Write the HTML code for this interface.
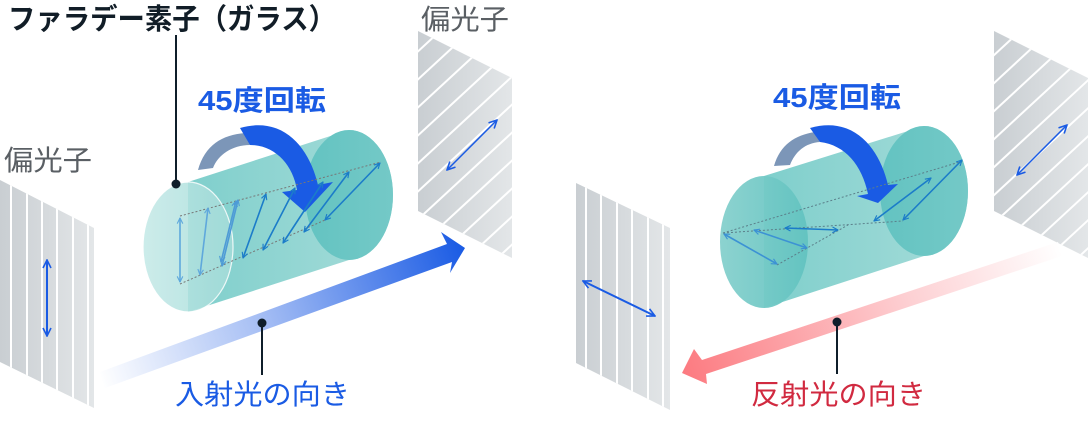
<!DOCTYPE html>
<html><head><meta charset="utf-8"><style>
html,body{margin:0;padding:0;background:#fff;width:1088px;height:427px;overflow:hidden}
svg{display:block}
text{font-family:"Liberation Sans","Noto Sans CJK JP",sans-serif}
</style></head><body>
<svg width="1088" height="427" viewBox="0 0 1088 427" xmlns="http://www.w3.org/2000/svg">
<defs>
<linearGradient id="pg" x1="0" x2="1" y1="0" y2="0"><stop offset="0" stop-color="#c9ced2"/><stop offset="1" stop-color="#e3e6e8"/></linearGradient>
<linearGradient id="cyl" x1="0" x2="1"><stop offset="0" stop-color="#7fcfcc"/><stop offset="1" stop-color="#a6dcd9"/></linearGradient>
<linearGradient id="endL" x1="0" x2="1"><stop offset="0" stop-color="#c4e9e7"/><stop offset="1" stop-color="#a4dcd9"/></linearGradient>
<linearGradient id="endR" x1="0" x2="1"><stop offset="0" stop-color="#63c3c1"/><stop offset="1" stop-color="#74c9c7"/></linearGradient>
<linearGradient id="endL2" x1="0" x2="1"><stop offset="0" stop-color="#86d0cd"/><stop offset="1" stop-color="#62c3c0"/></linearGradient>
<linearGradient id="inc" gradientUnits="userSpaceOnUse" x1="100" y1="380" x2="465" y2="250"><stop offset="0" stop-color="#ffffff"/><stop offset="0.45" stop-color="#a4bdf4"/><stop offset="1" stop-color="#1a5be4"/></linearGradient>
<linearGradient id="ref" gradientUnits="userSpaceOnUse" x1="1060" y1="248" x2="682" y2="373"><stop offset="0" stop-color="#ffffff"/><stop offset="0.4" stop-color="#fdd0d3"/><stop offset="1" stop-color="#fc7a80"/></linearGradient>
<marker id="ah" viewBox="0 0 10 10" refX="9" refY="5" markerWidth="7" markerHeight="7" orient="auto-start-reverse" markerUnits="userSpaceOnUse"><path d="M1,1 L9,5 L1,9" fill="none" stroke="context-stroke" stroke-width="1.6"/></marker>
<marker id="ahb" viewBox="0 0 10 10" refX="9" refY="5" markerWidth="10" markerHeight="10" orient="auto-start-reverse" markerUnits="userSpaceOnUse"><path d="M1,1 L9,5 L1,9" fill="none" stroke="#1a5be4" stroke-width="1.6"/></marker>
<clipPath id="cp1"><polygon points="0,180 94,228 94,408 0,362"/></clipPath>
<clipPath id="cp2"><polygon points="418,31 512,78 512,258 418,211"/></clipPath>
<clipPath id="cp3"><polygon points="576,183 670,228 670,410 576,363"/></clipPath>
<clipPath id="cp4"><polygon points="994,31 1088,78 1088,258 994,211"/></clipPath>
</defs>

<!-- polarizers -->
<g clip-path="url(#cp1)"><rect x="0" y="170" width="94" height="240" fill="url(#pg)"/>
<g stroke="#fff" stroke-width="2"><line x1="11" y1="170" x2="11" y2="420"/><line x1="27" y1="170" x2="27" y2="420"/><line x1="42" y1="170" x2="42" y2="420"/><line x1="57" y1="170" x2="57" y2="420"/><line x1="73" y1="170" x2="73" y2="420"/><line x1="88" y1="170" x2="88" y2="420"/></g></g>
<line x1="47" y1="260" x2="47" y2="336" stroke="#1a5be4" stroke-width="2" marker-start="url(#ahb)" marker-end="url(#ahb)"/>

<g clip-path="url(#cp2)"><rect x="418" y="25" width="94" height="240" fill="url(#pg)"/>
<g stroke="#fff" stroke-width="2"><line x1="400" y1="68" x2="530" y2="-52"/><line x1="400" y1="96" x2="530" y2="-24"/><line x1="400" y1="124" x2="530" y2="4"/><line x1="400" y1="152" x2="530" y2="32"/><line x1="400" y1="180" x2="530" y2="60"/><line x1="400" y1="208" x2="530" y2="88"/><line x1="400" y1="236" x2="530" y2="116"/><line x1="400" y1="264" x2="530" y2="144"/><line x1="400" y1="292" x2="530" y2="172"/><line x1="400" y1="320" x2="530" y2="200"/><line x1="400" y1="348" x2="530" y2="228"/><line x1="400" y1="376" x2="530" y2="256"/></g></g>
<line x1="447" y1="170" x2="497" y2="120" stroke="#1a5be4" stroke-width="1.5" marker-start="url(#ahb)" marker-end="url(#ahb)"/>

<g clip-path="url(#cp3)"><rect x="576" y="180" width="94" height="235" fill="url(#pg)"/>
<g stroke="#fff" stroke-width="2"><line x1="586" y1="170" x2="586" y2="420"/><line x1="601" y1="170" x2="601" y2="420"/><line x1="617" y1="170" x2="617" y2="420"/><line x1="632" y1="170" x2="632" y2="420"/><line x1="648" y1="170" x2="648" y2="420"/><line x1="663" y1="170" x2="663" y2="420"/></g></g>
<line x1="583" y1="281" x2="655" y2="316" stroke="#1a5be4" stroke-width="2" marker-start="url(#ahb)" marker-end="url(#ahb)"/>

<g clip-path="url(#cp4)"><rect x="994" y="25" width="94" height="240" fill="url(#pg)"/>
<g stroke="#fff" stroke-width="2"><line x1="980" y1="68" x2="1110" y2="-52"/><line x1="980" y1="96" x2="1110" y2="-24"/><line x1="980" y1="124" x2="1110" y2="4"/><line x1="980" y1="152" x2="1110" y2="32"/><line x1="980" y1="180" x2="1110" y2="60"/><line x1="980" y1="208" x2="1110" y2="88"/><line x1="980" y1="236" x2="1110" y2="116"/><line x1="980" y1="264" x2="1110" y2="144"/><line x1="980" y1="292" x2="1110" y2="172"/><line x1="980" y1="320" x2="1110" y2="200"/><line x1="980" y1="348" x2="1110" y2="228"/><line x1="980" y1="376" x2="1110" y2="256"/></g></g>
<line x1="1017" y1="175" x2="1067" y2="125" stroke="#1a5be4" stroke-width="1.5" marker-start="url(#ahb)" marker-end="url(#ahb)"/>

<!-- incident beam -->
<polygon points="100,372 447,244 441,232 465,248 450,273 452,262 105,388" fill="url(#inc)"/>
<!-- reflected beam -->
<polygon points="1058,242 702,360 694,349 682,373 707,384 706,374 1062,256" fill="url(#ref)"/>

<!-- left cylinder -->
<path d="M188,182 L349,130 A44,65 0 0 1 349,260 L188,312 Z" fill="url(#cyl)"/>
<ellipse cx="349" cy="195" rx="44" ry="65" fill="url(#endR)"/>
<ellipse cx="188" cy="247" rx="45" ry="65" fill="url(#endL)" opacity="0.85" stroke="#fff" stroke-width="1.2"/>
<!-- rotation arrow left -->
<path d="M198,170 C205,145 222,135 245,133 L250,145 C232,145 218,155 213,168 Z" fill="#7c96b8"/>
<path d="M240,128 C285,115 310,150 318,185 L333,182 L305,212 L282,192 L297,190 C293,165 275,145 250,145 Z" fill="#1a5be4"/>
<!-- left dotted lines & arrows -->
<g stroke="#777" stroke-width="1" stroke-dasharray="2,2" fill="none"><line x1="180" y1="216" x2="381" y2="162"/><line x1="180" y1="284" x2="325" y2="220"/></g>
<g fill="none" stroke-width="1.6">
<line x1="180" y1="218" x2="180" y2="282" stroke="#5fa8dc" marker-start="url(#ah)" marker-end="url(#ah)"/>
<line x1="208" y1="208" x2="200" y2="275" stroke="#5fa8dc" marker-start="url(#ah)" marker-end="url(#ah)"/>
<line x1="238" y1="200" x2="222" y2="266" stroke="#4e9bd6" marker-start="url(#ah)" marker-end="url(#ah)"/>
<line x1="236" y1="201" x2="221" y2="262" stroke="#4e9bd6" marker-start="url(#ah)" marker-end="url(#ah)"/>
<line x1="266" y1="194" x2="243" y2="258" stroke="#1b7cc9" marker-start="url(#ah)" marker-end="url(#ah)"/>
<line x1="295" y1="188" x2="263" y2="250" stroke="#1b7cc9" marker-start="url(#ah)" marker-end="url(#ah)"/>
<line x1="323" y1="182" x2="283" y2="243" stroke="#1b7cc9" marker-start="url(#ah)" marker-end="url(#ah)"/>
<line x1="349" y1="172" x2="304" y2="232" stroke="#1b7cc9" marker-start="url(#ah)" marker-end="url(#ah)"/>
<line x1="380" y1="163" x2="325" y2="220" stroke="#1b7cc9" marker-start="url(#ah)" marker-end="url(#ah)"/>
</g>

<!-- right cylinder -->
<path d="M764,176 L924,126 A44,65 0 0 1 924,256 L764,308 Z" fill="url(#cyl)"/>
<ellipse cx="924" cy="191" rx="44" ry="65" fill="url(#endR)"/>
<ellipse cx="764" cy="242" rx="44" ry="66" fill="url(#endL2)" opacity="0.95"/>
<path d="M774,166 C780,145 795,135 815,132 L820,142 C805,143 795,152 790,165 Z" fill="#7c96b8"/>
<path d="M810,128 C855,115 880,150 888,185 L898,184 L878,203 L857,196 L868,194 C862,165 845,145 820,142 Z" fill="#1a5be4"/>
<g stroke="#5b7f8a" stroke-width="1" stroke-dasharray="2,2" fill="none"><line x1="723" y1="233" x2="963" y2="161"/><line x1="777" y1="265" x2="848" y2="225"/><line x1="723" y1="233" x2="903" y2="221"/></g>
<g fill="none" stroke-width="1.6" stroke="#3c92d4">
<line x1="724" y1="234" x2="777" y2="264" marker-start="url(#ah)" marker-end="url(#ah)"/>
<line x1="754" y1="230" x2="807" y2="248" marker-start="url(#ah)" marker-end="url(#ah)"/>
<line x1="785" y1="228" x2="838" y2="230" marker-start="url(#ah)" marker-end="url(#ah)" stroke="#1b7cc9"/>
<line x1="874" y1="221" x2="931" y2="178" marker-start="url(#ah)" marker-end="url(#ah)" stroke="#1b7cc9"/>
<line x1="903" y1="220" x2="962" y2="160" marker-start="url(#ah)" marker-end="url(#ah)" stroke="#1b7cc9"/>
</g>

<!-- leader lines -->
<line x1="176" y1="35" x2="176" y2="183" stroke="#0f1e2a" stroke-width="2"/>
<circle cx="176" cy="184" r="4.5" fill="#0f1e2a"/>
<line x1="262" y1="322" x2="262" y2="375" stroke="#0f1e2a" stroke-width="2"/>
<circle cx="262" cy="323" r="4.5" fill="#0f1e2a"/>
<line x1="837" y1="322" x2="837" y2="374" stroke="#0f1e2a" stroke-width="2"/>
<circle cx="837" cy="322" r="4.5" fill="#0f1e2a"/>

<!-- labels -->
<text x="8" y="29" font-size="29" font-weight="bold" fill="#111d27" textLength="328" lengthAdjust="spacingAndGlyphs">ファラデー素子（ガラス）</text>
<text x="198" y="110" font-size="28" font-weight="bold" fill="#1a5be4" textLength="128" lengthAdjust="spacingAndGlyphs">45度回転</text>
<text x="773" y="107" font-size="28" font-weight="bold" fill="#1a5be4" textLength="128" lengthAdjust="spacingAndGlyphs">45度回転</text>
<text x="421" y="29" font-size="28" fill="#5a5f64" textLength="88" lengthAdjust="spacingAndGlyphs">偏光子</text>
<text x="4" y="170" font-size="28" fill="#5a5f64" textLength="88" lengthAdjust="spacingAndGlyphs">偏光子</text>
<text x="175" y="404" font-size="28" fill="#1a5be4" textLength="175" lengthAdjust="spacingAndGlyphs">入射光の向き</text>
<text x="751" y="404" font-size="28" fill="#d12a40" textLength="175" lengthAdjust="spacingAndGlyphs">反射光の向き</text>
</svg>
</body></html>
